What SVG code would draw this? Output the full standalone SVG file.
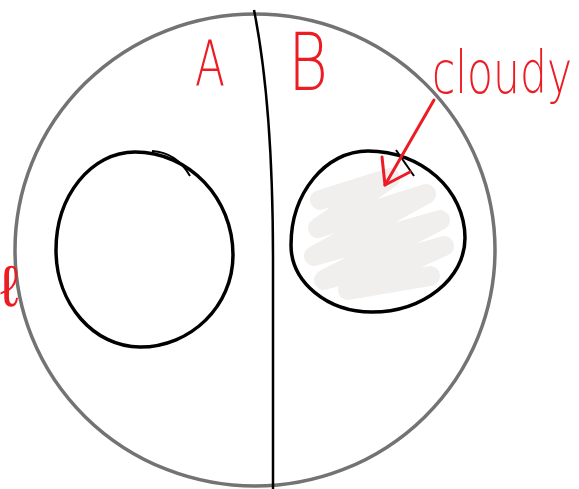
<svg xmlns="http://www.w3.org/2000/svg" width="579" height="489" viewBox="0 0 579 489">
<style>
.red{fill:#ec1c24;font-family:"DejaVu Sans","Liberation Sans",sans-serif;font-weight:200}
.ink{fill:none;stroke:#000;stroke-width:3.5;stroke-linecap:round;stroke-linejoin:round}
.redline{fill:none;stroke:#ec1c24;stroke-width:3;stroke-linecap:round;stroke-linejoin:round}
</style>
<rect width="579" height="489" fill="#fff"/>
<g id="outer">
<ellipse cx="255" cy="250" rx="240" ry="236" fill="none" stroke="#737373" stroke-width="3.5"/>
</g>
<g id="divider">
<path d="M254,10 C266,70 273,150 273,260 L273,489" fill="none" stroke="#000" stroke-width="2.5"/>
</g>
<g id="circleA">
<path class="ink" d="M135,152 C189,152 233,198 233,255 C233,306 191,347 140,347 C94,347 56,304 56,250 C56,196 91,152 135,152 Z"/>
<path d="M152,151 C168,152 181,160 190,176" fill="none" stroke="#000" stroke-width="2"/>
</g>
<g id="circleB">
<path d="M320,200 L390,178 L318,228 L426,194 L314,256 L440,220 L324,280 L444,246 L348,290 L430,276" fill="none" stroke="#f0efed" stroke-width="20" stroke-linecap="round" stroke-linejoin="round"/>
<path class="ink" d="M368,151 C421.5,151 465,190 465,238 C465,279 423,312 372,312 C327,312 291,282 291,245 C291,193 325.5,151 368,151 Z"/>
<path d="M396,150 L414,176" fill="none" stroke="#000" stroke-width="2"/>
</g>
<g id="labels">
<text class="red" x="195" y="85" font-size="62" textLength="30" lengthAdjust="spacingAndGlyphs">A</text>
<text class="red" x="288" y="90" font-size="80" textLength="40" lengthAdjust="spacingAndGlyphs">B</text>
<text class="red" transform="translate(432,93) scale(1,1.45)" x="0" y="0" font-size="41" textLength="140" lengthAdjust="spacingAndGlyphs">cloudy</text>
<text class="red" x="0" y="306" font-size="58">ℓ</text>
</g>
<g id="connectors">
<path class="redline" d="M434,100 L385,185"/>
<path class="redline" d="M382,157 L385,185 L410,172"/>
</g>
</svg>
